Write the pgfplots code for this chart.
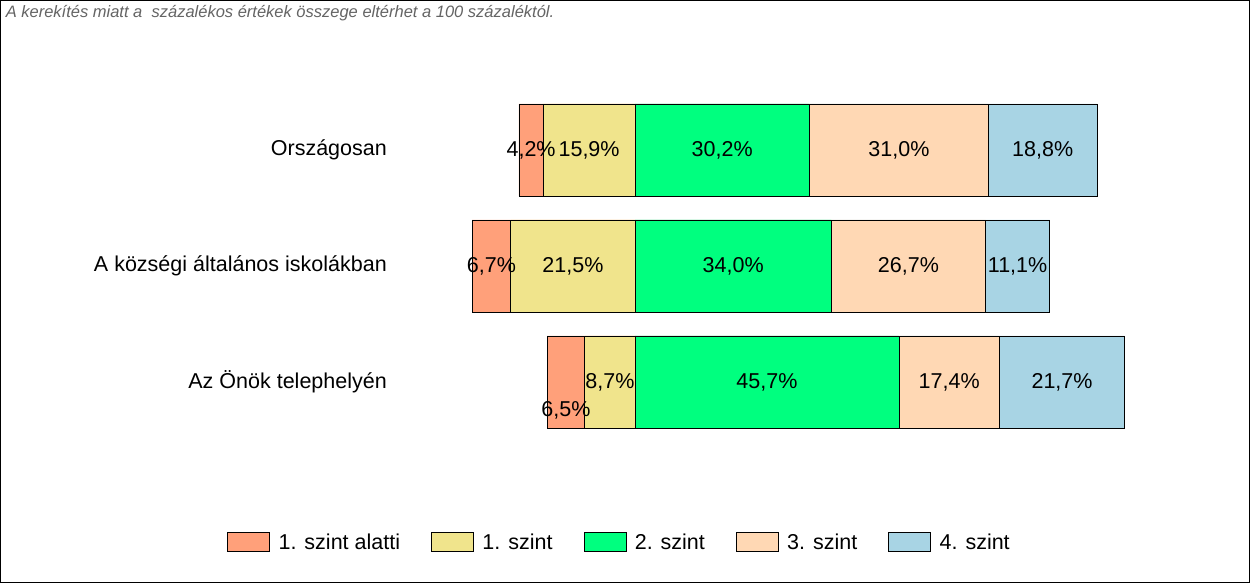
\documentclass[border=0pt]{standalone}
\usepackage{pgfplots}
\pgfplotsset{compat=1.18}
\usepackage{fontspec}
\setmainfont{Liberation Sans}
\definecolor{cA}{RGB}{255,160,122}
\definecolor{cB}{RGB}{240,228,140}
\definecolor{cC}{RGB}{0,255,127}
\definecolor{cD}{RGB}{255,216,180}
\definecolor{cE}{RGB}{168,212,228}
\definecolor{noteg}{RGB}{100,100,100}
\newcommand\lbl{\fontsize{21.5pt}{25pt}\selectfont}
\begin{document}
\begin{tikzpicture}
\begin{axis}[
  scale only axis, width=1248.8pt, height=581.8pt,
  xmin=-109.85, xmax=106.39, ymin=-0.7276, ymax=4.2879,
  axis line style={line width=1.2pt},
  xtick=\empty, ytick={1,2,3},
  yticklabels={Az Önök telephelyén, A községi általános iskolákban, Országosan},
  yticklabel style={font=\lbl, anchor=east, inner sep=0pt, xshift=386.4pt},
  major tick length=0pt,
  legend image code/.code={\draw[#1] (0pt,-9.5pt) rectangle (42pt,9.5pt);},
  legend style={at={(rel axis cs:0.4956,0.0695)}, anchor=center, draw=none,
    fill=none, font=\lbl, legend columns=-1,
    /tikz/every odd column/.append style={column sep=6.5pt},
    /tikz/every even column/.append style={column sep=29pt}},
]
% negative side (cumulative: 1. szint alatti + 1. szint, then 1. szint)
\addplot[xbar, bar shift=0pt, bar width=92pt, fill=cA, draw=black, line width=0.8pt, forget plot]
  coordinates {(-20.1,3) (-28.2,2) (-15.2,1)};
\addplot[xbar, bar shift=0pt, bar width=92pt, fill=cB, draw=black, line width=0.8pt, forget plot]
  coordinates {(-15.9,3) (-21.5,2) (-8.7,1)};
% positive side (cumulative 2.+3.+4., 2.+3., 2.)
\addplot[xbar, bar shift=0pt, bar width=92pt, fill=cE, draw=black, line width=0.8pt, forget plot]
  coordinates {(80.0,3) (71.8,2) (84.8,1)};
\addplot[xbar, bar shift=0pt, bar width=92pt, fill=cD, draw=black, line width=0.8pt, forget plot]
  coordinates {(61.2,3) (60.7,2) (63.1,1)};
\addplot[xbar, bar shift=0pt, bar width=92pt, fill=cC, draw=black, line width=0.8pt, forget plot]
  coordinates {(30.2,3) (34.0,2) (45.7,1)};
% segment labels
\addplot[draw=none, forget plot, nodes near coords, point meta=explicit symbolic,
  nodes near coords align=center,
  every node near coord/.append style={font=\lbl, inner sep=0pt, text=black}]
  coordinates {
  (-17.99,3) [4,2\%] (-7.95,3) [15,9\%] (15.1,3) [30,2\%] (45.7,3) [31,0\%] (70.6,3) [18,8\%]
  (-24.85,2) [6,7\%] (-10.75,2) [21,5\%] (17.0,2) [34,0\%] (47.35,2) [26,7\%] (66.25,2) [11,1\%]
  (-11.95,0.759) [6,5\%] (-4.35,1) [8,7\%] (22.85,1) [45,7\%] (54.4,1) [17,4\%] (73.95,1) [21,7\%]
  };
\addlegendimage{fill=cA, draw=black, line width=0.8pt}
\addlegendentry{1. szint alatti}
\addlegendimage{fill=cB, draw=black, line width=0.8pt}
\addlegendentry{1. szint}
\addlegendimage{fill=cC, draw=black, line width=0.8pt}
\addlegendentry{2. szint}
\addlegendimage{fill=cD, draw=black, line width=0.8pt}
\addlegendentry{3. szint}
\addlegendimage{fill=cE, draw=black, line width=0.8pt}
\addlegendentry{4. szint}
\node[anchor=north west, inner sep=0pt, text=noteg, font=\itshape\fontsize{16.5pt}{19pt}\selectfont,
  xshift=5pt, yshift=-5pt] at (rel axis cs:0,1)
  {A kerekítés miatt a\ \ százalékos értékek összege eltérhet a 100 százaléktól.};
\end{axis}
\end{tikzpicture}
\end{document}
